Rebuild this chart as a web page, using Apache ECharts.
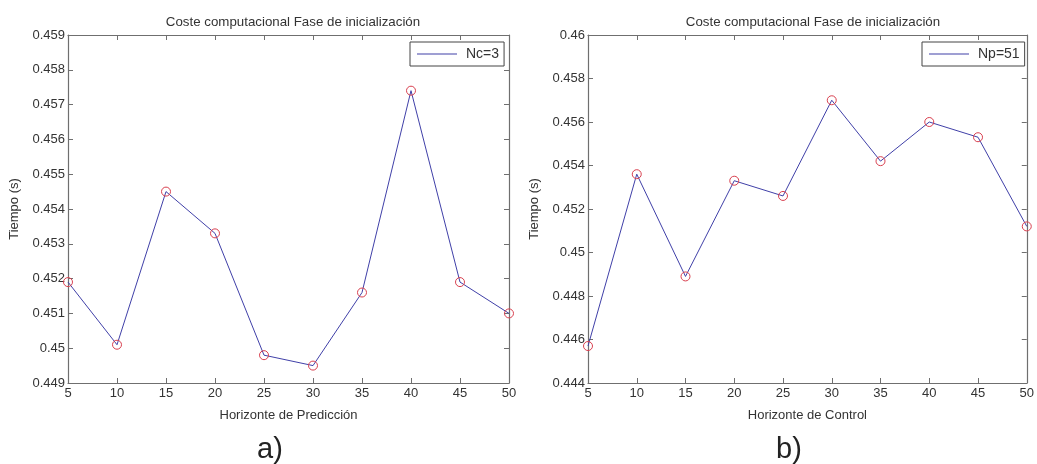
<!DOCTYPE html>
<html>
<head>
<meta charset="utf-8">
<script src="https://cdn.jsdelivr.net/npm/echarts@6/dist/echarts.min.js"></script>
<style>html,body{margin:0;padding:0;background:#fff;}#c{width:1037px;height:464px;}</style>
</head>
<body>
<div id="c"></div>
<script>
var xValues = [5, 10, 15, 20, 25, 30, 35, 40, 45, 50];
var timesPrediction = [0.4519, 0.4501, 0.4545, 0.4533, 0.4498, 0.4495, 0.4516, 0.4574, 0.4519, 0.4510];
var timesControl = [0.4457, 0.4536, 0.4489, 0.4533, 0.4526, 0.4570, 0.4542, 0.4560, 0.4553, 0.4512];
var titleText = 'Coste computacional Fase de inicialización';
var xNames = ['Horizonte de Predicción', 'Horizonte de Control'];
var yName = 'Tiempo (s)';
var legendNames = ['Nc=3', 'Np=51'];
var panelLabels = ['a)', 'b)'];

var FONT = 'Liberation Sans, Arial, sans-serif';
var TXT = '#333';
var AX = '#6f6f6f';
var LINE = '#4040a8';
var MARK = '#d9404f';

function pairs(ys){ return xValues.map(function(x,i){ return [x, ys[i]]; }); }
function fmt(v){ return String(+v.toFixed(4)); }

var grids = [
  {left: 68, top: 35, width: 441, height: 348},
  {left: 588, top: 35, width: 442, height: 348}
];
var yRanges = [[0.449, 0.459, 0.001], [0.444, 0.460, 0.002]];

var xAxes = [], yAxes = [];
[0,1].forEach(function(g){
  xAxes.push({type:'value', gridIndex:g, min:5, max:50, interval:5, position:'bottom',
    name: xNames[g], nameLocation:'middle', nameGap:26,
    nameTextStyle:{fontFamily:FONT, fontSize:13, color:TXT},
    axisLine:{lineStyle:{color:AX, width:1.2}},
    axisTick:{inside:true, length:5, lineStyle:{color:AX}},
    axisLabel:{fontFamily:FONT, fontSize:13, color:TXT, margin:4},
    splitLine:{show:false}});
  xAxes.push({type:'value', gridIndex:g, min:5, max:50, interval:5, position:'top',
    axisLine:{show:true, lineStyle:{color:AX, width:1.2}},
    axisTick:{inside:true, length:5, lineStyle:{color:AX}},
    axisLabel:{show:false}, splitLine:{show:false}});
  var r = yRanges[g];
  yAxes.push({type:'value', gridIndex:g, min:r[0], max:r[1], interval:r[2], position:'left',
    name: yName, nameLocation:'middle', nameGap:47,
    nameTextStyle:{fontFamily:FONT, fontSize:13, color:TXT},
    axisLine:{show:true, lineStyle:{color:AX, width:1.2}},
    axisTick:{show:true, inside:true, length:5, lineStyle:{color:AX}},
    axisLabel:{fontFamily:FONT, fontSize:13, color:TXT, margin:3, formatter:fmt},
    splitLine:{show:false}});
  yAxes.push({type:'value', gridIndex:g, min:r[0], max:r[1], interval:r[2], position:'right',
    axisLine:{show:true, lineStyle:{color:AX, width:1.2}},
    axisTick:{show:true, inside:true, length:5, lineStyle:{color:AX}},
    axisLabel:{show:false}, splitLine:{show:false}});
});

var series = [timesPrediction, timesControl].map(function(ys, g){
  return {type:'line', name: legendNames[g], xAxisIndex: g*2, yAxisIndex: g*2,
    data: pairs(ys), symbol:'circle', symbolSize:9,
    itemStyle:{color:'rgba(0,0,0,0)', borderColor:MARK, borderWidth:1},
    lineStyle:{color:LINE, width:1}, z: 3, animation:false};
});

var legends = [0,1].map(function(g){
  return {data:[{name:legendNames[g], icon:'rect', itemStyle:{color:LINE, borderWidth:0}}],
    left: g===0 ? 410 : 922, top: 42,
    itemWidth: 40, itemHeight: 1, itemGap: 0,
    padding:[5,5,5,7], borderColor:'#444', borderWidth:1, backgroundColor:'#fff',
    textStyle:{fontFamily:FONT, fontSize:14, color:TXT, padding:[0,0,0,4]},
    selectedMode:false};
});

var chart = echarts.init(document.getElementById('c'), null, {renderer:'canvas'});
chart.setOption({
  backgroundColor:'#fff',
  animation:false,
  title:[
    {text:titleText, left:288, top:11, textAlign:'center', textStyle:{fontFamily:FONT, fontSize:13.3, fontWeight:'normal', color:TXT}},
    {text:titleText, left:808, top:11, textAlign:'center', textStyle:{fontFamily:FONT, fontSize:13.3, fontWeight:'normal', color:TXT}}
  ],
  grid: grids,
  xAxis: xAxes,
  yAxis: yAxes,
  legend: legends,
  series: series,
  graphic:[
    {type:'text', left:257, top:435, style:{text:panelLabels[0], font:'29px ' + FONT, fill:'#222'}},
    {type:'text', left:776, top:435, style:{text:panelLabels[1], font:'29px ' + FONT, fill:'#222'}}
  ]
});
</script>
</body>
</html>
